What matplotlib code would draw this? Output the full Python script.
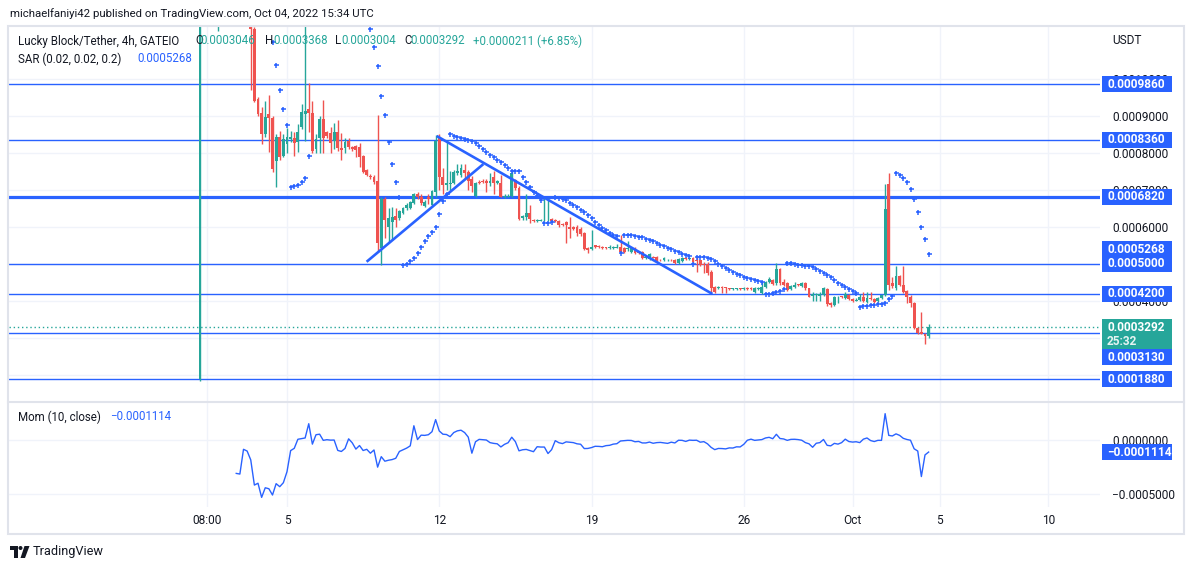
import numpy as np
import matplotlib
matplotlib.use("Agg")
import matplotlib.pyplot as plt
from matplotlib.patches import Rectangle, Polygon, Circle
from matplotlib.lines import Line2D
from matplotlib.transforms import IdentityTransform

plt.rcParams['font.family'] = ['Roboto', 'DejaVu Sans']

W, H = 1194, 570
SCALE = 1e-4  # the price lists are in units of 0.0001 USDT

# LUCKY/USDT 4h candles, the first one opens Sep 1 (x axis = days since Sep 1)
opens = [
    1.88, 15.75, 15.62, 13.07, 13.35, 13.20, 13.58, 13.05, 13.81, 13.39,
    13.46, 12.66, 12.47, 12.21, 12.33, 11.36, 9.46, 9.08, 8.51, 9.05,
    8.95, 7.78, 8.43, 7.92, 8.25, 8.38, 8.40, 8.30, 8.70, 9.05,
    9.19, 9.08, 8.11, 8.40, 8.92, 8.57, 8.54, 8.32, 8.57, 8.14,
    8.14, 8.32, 8.16, 8.20, 8.16, 7.92, 7.54, 7.38, 7.35, 7.24,
    5.43, 6.76, 6.00, 6.14, 6.30, 6.24, 6.38, 6.50, 6.51, 6.65,
    6.89, 6.81, 6.57, 6.81, 6.59, 6.95, 8.40, 7.35, 7.14, 7.17,
    7.19, 7.45, 7.41, 7.55, 7.49, 7.30, 6.84, 7.22, 7.25, 7.24,
    7.20, 7.35, 7.19, 7.19, 6.80, 6.82, 6.84, 7.27, 7.05, 6.25,
    6.27, 6.38, 6.20, 6.16, 6.17, 6.18, 6.18, 6.22, 6.20, 6.16,
    6.08, 6.14, 6.00, 6.00, 6.00, 5.95, 5.84, 5.43, 5.41, 5.50,
    5.49, 5.47, 5.45, 5.43, 5.43, 5.44, 5.47, 5.43, 5.40, 5.32,
    5.43, 5.32, 5.32, 5.16, 5.14, 5.20, 5.19, 5.12, 5.10, 5.10,
    5.12, 5.11, 5.03, 5.08, 5.16, 5.14, 5.16, 5.12, 5.11, 5.00,
    5.00, 4.78, 4.38, 4.35, 4.36, 4.37, 4.34, 4.32, 4.32, 4.34,
    4.33, 4.35, 4.35, 4.24, 4.33, 4.22, 4.38, 4.51, 4.57, 4.49,
    4.86, 4.51, 4.49, 4.32, 4.38, 4.45, 4.41, 4.49, 4.35, 4.14,
    4.17, 4.14, 4.16, 4.32, 3.95, 3.89, 4.10, 4.12, 4.08, 4.16,
    4.05, 4.01, 4.03, 4.11, 3.97, 4.08, 4.05, 4.00, 4.08, 4.16,
    7.16, 4.49, 4.35, 4.68, 4.43, 4.27, 4.11, 3.95, 3.27, 3.16,
    3.11, 3.046]
highs = [
    16.50, 16.00, 15.90, 14.00, 13.90, 14.20, 13.90, 14.10, 14.00, 13.70,
    13.50, 12.90, 12.60, 12.60, 12.40, 11.40, 9.50, 9.24, 9.40, 9.57,
    9.00, 8.51, 8.60, 8.50, 8.68, 8.60, 8.57, 8.78, 9.32, 14.50,
    9.89, 9.40, 8.50, 9.00, 9.43, 8.60, 8.70, 8.80, 8.90, 8.54,
    8.40, 8.40, 8.20, 8.22, 8.27, 7.95, 7.58, 7.42, 7.40, 9.03,
    6.81, 6.80, 6.50, 6.54, 6.50, 6.45, 6.55, 6.65, 6.70, 6.92,
    6.95, 6.90, 6.72, 6.90, 7.00, 8.49, 8.50, 7.60, 8.35, 7.50,
    7.55, 7.70, 7.70, 7.70, 7.55, 7.38, 7.22, 7.26, 7.30, 7.30,
    7.45, 7.50, 7.28, 7.40, 6.88, 6.88, 7.50, 7.30, 7.10, 6.33,
    6.90, 6.60, 6.22, 6.22, 6.22, 6.80, 6.78, 6.25, 6.22, 6.20,
    6.12, 6.16, 6.27, 6.02, 6.05, 6.00, 5.86, 5.45, 5.92, 5.52,
    5.51, 5.49, 5.47, 5.52, 5.48, 5.55, 5.78, 5.45, 5.62, 5.45,
    5.45, 5.34, 5.35, 5.21, 5.29, 5.22, 5.22, 5.14, 5.19, 5.14,
    5.14, 5.14, 5.16, 5.18, 5.18, 5.18, 5.19, 5.19, 5.12, 5.05,
    5.05, 4.84, 4.40, 4.40, 4.40, 4.39, 4.36, 4.36, 4.36, 4.36,
    4.37, 4.37, 4.37, 4.37, 4.38, 4.50, 4.53, 4.65, 4.60, 5.03,
    4.90, 4.60, 4.52, 4.43, 4.52, 4.47, 4.50, 4.50, 4.36, 4.24,
    4.21, 4.24, 4.38, 4.35, 3.97, 4.14, 4.14, 4.14, 4.24, 4.18,
    4.07, 4.08, 4.20, 4.24, 4.24, 4.24, 4.08, 4.10, 4.18, 7.16,
    7.46, 4.65, 4.95, 4.70, 4.95, 4.30, 4.16, 3.97, 3.30, 3.70,
    3.14, 3.368]
lows = [
    1.85, 14.80, 12.60, 12.80, 12.90, 11.30, 12.80, 12.90, 13.10, 13.20,
    12.40, 12.20, 12.00, 12.10, 9.70, 9.39, 9.00, 8.24, 8.43, 8.03,
    7.49, 7.08, 7.80, 7.90, 8.00, 8.30, 7.93, 8.03, 8.65, 8.32,
    8.57, 8.00, 8.00, 8.00, 8.00, 8.40, 8.00, 8.10, 8.05, 7.81,
    8.00, 8.10, 8.05, 7.90, 7.62, 7.45, 7.38, 7.30, 7.15, 5.32,
    4.97, 5.70, 5.60, 5.65, 6.00, 6.20, 6.35, 6.45, 6.48, 6.62,
    6.75, 6.60, 6.55, 6.62, 6.55, 6.81, 7.00, 6.90, 7.00, 7.00,
    7.15, 7.40, 7.35, 7.30, 7.00, 6.95, 6.81, 7.15, 7.18, 6.95,
    7.10, 6.90, 7.15, 6.80, 6.78, 6.80, 6.82, 7.00, 6.20, 6.20,
    6.20, 6.10, 6.14, 6.14, 6.15, 6.15, 6.16, 6.14, 6.14, 6.00,
    6.02, 5.57, 5.70, 5.92, 5.76, 5.75, 5.38, 5.30, 5.38, 5.44,
    5.44, 5.41, 5.41, 5.41, 5.41, 5.42, 5.30, 5.30, 5.35, 5.30,
    5.28, 5.28, 5.13, 5.14, 5.12, 5.15, 5.05, 5.08, 5.08, 5.08,
    5.08, 5.00, 5.01, 5.06, 5.12, 5.12, 5.03, 4.78, 4.95, 4.76,
    4.70, 4.22, 4.22, 4.33, 4.22, 4.22, 4.30, 4.30, 4.30, 4.31,
    4.31, 4.31, 4.31, 4.22, 4.31, 4.20, 4.36, 4.49, 4.44, 4.43,
    4.43, 4.40, 4.28, 4.30, 4.36, 4.40, 4.39, 4.30, 4.10, 4.00,
    4.00, 4.00, 4.14, 3.86, 3.85, 3.87, 3.95, 4.08, 4.06, 4.03,
    3.98, 3.99, 4.01, 3.98, 3.95, 4.04, 3.95, 3.98, 4.06, 4.14,
    4.30, 4.35, 4.30, 4.40, 4.22, 3.95, 3.84, 3.25, 3.10, 3.10,
    2.84, 3.004]
closes = [
    15.75, 15.62, 13.07, 13.35, 13.20, 13.58, 13.05, 13.81, 13.39, 13.46,
    12.66, 12.47, 12.21, 12.33, 11.36, 9.41, 9.05, 8.50, 8.97, 8.95,
    7.57, 8.43, 7.89, 8.38, 8.43, 8.43, 8.28, 8.57, 9.10, 9.14,
    9.08, 8.05, 8.38, 8.92, 8.40, 8.46, 8.27, 8.57, 8.14, 8.08,
    8.30, 8.16, 8.12, 8.08, 7.89, 7.49, 7.41, 7.35, 7.22, 5.57,
    6.76, 6.20, 6.25, 6.27, 6.20, 6.43, 6.51, 6.60, 6.68, 6.89,
    6.80, 6.65, 6.68, 6.76, 6.97, 8.32, 7.35, 7.14, 7.19, 7.20,
    7.49, 7.50, 7.59, 7.45, 7.24, 7.10, 7.19, 7.20, 7.22, 7.20,
    7.25, 7.19, 7.24, 6.81, 6.84, 6.85, 7.45, 7.05, 6.22, 6.30,
    6.38, 6.22, 6.16, 6.19, 6.19, 6.20, 6.20, 6.16, 6.16, 6.05,
    6.05, 6.05, 5.95, 5.95, 5.84, 5.81, 5.41, 5.38, 5.46, 5.47,
    5.46, 5.43, 5.43, 5.46, 5.46, 5.47, 5.32, 5.32, 5.43, 5.43,
    5.30, 5.30, 5.16, 5.19, 5.27, 5.17, 5.08, 5.10, 5.17, 5.12,
    5.10, 5.03, 5.14, 5.16, 5.14, 5.16, 5.05, 5.08, 4.97, 4.97,
    4.75, 4.35, 4.25, 4.38, 4.35, 4.34, 4.32, 4.34, 4.34, 4.33,
    4.35, 4.33, 4.33, 4.35, 4.36, 4.38, 4.51, 4.59, 4.46, 4.86,
    4.49, 4.43, 4.30, 4.41, 4.43, 4.42, 4.49, 4.35, 4.11, 4.19,
    4.19, 4.19, 4.35, 3.92, 3.89, 4.11, 4.11, 4.11, 4.19, 4.05,
    4.00, 4.03, 4.11, 4.00, 4.08, 4.06, 3.97, 4.08, 4.16, 6.49,
    4.43, 4.406, 4.68, 4.43, 4.24, 4.11, 3.95, 3.27, 3.14, 3.11,
    3.05, 3.292]

# horizontal levels drawn by the author (0.0001 units), the 0.000682 one is thick
levels = [9.86, 8.36, 6.82, 5.00, 4.20, 3.13, 1.88]
level_widths = [1, 1, 2.3, 1, 1, 1, 1]
# flag drawing: (day, price) end points
trend_lines = [((7.66, 5.06), (13.03, 7.70)),
               ((10.88, 8.46), (23.56, 4.19))]

tick_days = [1 / 3, 4, 11, 18, 25, 30, 34, 39]
tick_labels = ['08:00', '5', '12', '19', '26', 'Oct', '5', '10']
price_ticks = [2, 3, 4, 5, 6, 7, 8, 9, 10]
hidden_ticks = [3, 5]  # fully covered by the price boxes
mom_ticks = [0, -5]
mom_tick_labels = ['0.0000000', '\u22120.0005000']

UP = '#26a69a'
DOWN = '#ef5350'
BLUE = '#2962ff'
TXT = '#131722'
GRID = '#f0f3fa'
BORDER = '#e0e3eb'


def parabolic_sar(h, l, c, start=0.02, inc=0.02, mx=0.2):
    n = len(c)
    out = np.full(n, np.nan)
    result = maxmin = acc = np.nan
    below = False
    for i in range(1, n):
        first = False
        if i == 1:
            if c[1] > c[0]:
                below, maxmin, result = True, h[1], l[0]
            else:
                below, maxmin, result = False, l[1], h[0]
            first = True
            acc = start
        result = result + acc * (maxmin - result)
        if below:
            if result > l[i]:
                first, below = True, False
                result = max(h[i], maxmin)
                maxmin, acc = l[i], start
        else:
            if result < h[i]:
                first, below = True, True
                result = min(l[i], maxmin)
                maxmin, acc = h[i], start
        if not first:
            if below and h[i] > maxmin:
                maxmin, acc = h[i], min(acc + inc, mx)
            elif not below and l[i] < maxmin:
                maxmin, acc = l[i], min(acc + inc, mx)
        if below:
            result = min(result, l[i - 1])
            if i > 1:
                result = min(result, l[i - 2])
        else:
            result = max(result, h[i - 1])
            if i > 1:
                result = max(result, h[i - 2])
        out[i] = result
    return out


o = np.array(opens) * SCALE
hi = np.array(highs) * SCALE
lo = np.array(lows) * SCALE
c = np.array(closes) * SCALE
x = np.arange(len(c)) / 6.0
sar = parabolic_sar(hi, lo, c)
mom = c[10:] - c[:-10]


def fx(px):
    return px / W


def fy(py):
    return 1 - py / H


def day(px):
    return (px - 200) / 21.75


fig = plt.figure(figsize=(W / 100, H / 100), dpi=100)
fig.patch.set_facecolor('white')

ax = fig.add_axes([fx(9), fy(401), fx(1100) - fx(9), fy(26) - fy(401)])
axm = fig.add_axes([fx(9), fy(507), fx(1100) - fx(9), fy(402) - fy(507)], sharex=ax)

for a in (ax, axm):
    for s in a.spines.values():
        s.set_visible(False)
    a.set_xlim(day(9), day(1100))
    a.grid(True, color=GRID, lw=1)
    a.set_axisbelow(True)
    a.yaxis.tick_right()
    a.tick_params(axis='y', length=0, pad=8.6, labelsize=8.6, labelcolor=TXT)
    a.tick_params(axis='x', length=0, pad=5, labelsize=8.6, labelcolor=TXT)

ax.set_ylim(1.297 * SCALE, 11.432 * SCALE)
ax.set_yticks([p * SCALE for p in price_ticks])
ax.set_yticklabels(['' if p in hidden_ticks else '%.7f' % (p * SCALE) for p in price_ticks])
ax.set_xticks(tick_days)
ax.tick_params(axis='x', labelbottom=False)

axm.set_ylim(-6.2 * SCALE, 3.52 * SCALE)
axm.set_yticks([m * SCALE for m in mom_ticks])
axm.set_yticklabels(mom_tick_labels)
axm.set_xticks(tick_days)
axm.set_xticklabels(tick_labels)

# candles
col = np.where(c >= o, UP, DOWN)
ax.vlines(x, lo, hi, colors=col, lw=1, zorder=3)
body = np.maximum(np.abs(c - o), 0.02 * SCALE)
ax.bar(x, body, bottom=np.minimum(o, c), width=0.8 / 6, color=col, lw=0, zorder=3)

# levels, flag, last price
for lv, lw in zip(levels, level_widths):
    ax.axhline(lv * SCALE, color=BLUE, lw=lw, zorder=2)
for (x0, y0), (x1, y1) in trend_lines:
    ax.plot([x0, x1], [y0 * SCALE, y1 * SCALE], color=BLUE, lw=1.9, zorder=4,
            solid_capstyle='butt')
ax.axhline(c[-1], color=UP, lw=1, ls=(0, (1, 2)), zorder=2)

# parabolic SAR
ax.plot(x, sar, ls='none', marker='+', ms=3.6, mew=1.1, color=BLUE, zorder=5)

# momentum
axm.plot(x[10:], mom, color=BLUE, lw=1)

# frame
fig.add_artist(Rectangle((fx(8), fy(534)), fx(1184) - fx(8), fy(26) - fy(534),
                         transform=fig.transFigure, fill=False, ec=BORDER, lw=1.5))
fig.add_artist(Line2D([fx(8), fx(1184)], [fy(401.5), fy(401.5)], color=BORDER, lw=1.5))

ID = IdentityTransform()


def price_box(a, value, text, color, shift=0, sub=None):
    _, yd = a.transData.transform((0, value))
    yd -= shift
    hgt = 30 if sub else 16
    top = yd + 8
    fig.add_artist(Rectangle((1102, top - hgt), 70, hgt, transform=ID,
                             fc=color, ec='none', zorder=6))
    fig.text(1107, yd, text, transform=ID, color='white', fontsize=8.6,
             fontweight='bold', va='center', ha='left', zorder=7)
    if sub:
        fig.text(1107, yd - 14, sub, transform=ID, color='#e6f4f2',
                 fontsize=8.6, fontweight='bold', va='center', ha='left', zorder=7)


price_box(ax, 9.86 * SCALE, '0.0009860', BLUE)
price_box(ax, 8.36 * SCALE, '0.0008360', BLUE)
price_box(ax, 6.82 * SCALE, '0.0006820', BLUE)
price_box(ax, sar[-1], '0.0005268', BLUE, shift=-5)
price_box(ax, 5.00 * SCALE, '0.0005000', BLUE)
price_box(ax, 4.20 * SCALE, '0.0004200', BLUE)
price_box(ax, c[-1], '0.0003292', UP, sub='25:32')
price_box(ax, 3.13 * SCALE, '0.0003130', BLUE, shift=24)
price_box(ax, 1.88 * SCALE, '0.0001880', BLUE)
price_box(axm, mom[-1], '\u22120.0001114', BLUE)

# texts
fig.text(fx(10), fy(14), 'michaelfaniyi42 published on TradingView.com, Oct 04, 2022 15:34 UTC',
         fontsize=8.2, color=TXT, va='center')
fig.text(fx(1112), fy(41), 'USDT', fontsize=8.6, color=TXT, va='center')

legend_parts = [(18, 'Lucky Block/Tether, 4h, GATEIO', TXT), (195, 'O', TXT),
                (200, '0.0003046', UP), (265, 'H', TXT), (273, '0.0003368', UP),
                (335, 'L', TXT), (341, '0.0003004', UP), (404, 'C', TXT),
                (410, '0.0003292', UP), (473, '+0.0000211 (+6.85%)', UP)]
for px, t, cl in legend_parts:
    fig.text(fx(px), fy(41), t, fontsize=8.3, color=cl, va='center')
fig.text(fx(18), fy(59), 'SAR (0.02, 0.02, 0.2)', fontsize=8.3, color=TXT, va='center')
fig.text(fx(137), fy(59), '0.0005268', fontsize=8.3, color=BLUE, va='center')
fig.text(fx(18), fy(417), 'Mom (10, close)', fontsize=8.3, color=TXT, va='center')
fig.text(fx(110), fy(417), '\u22120.0001114', fontsize=8.3, color=BLUE, va='center')

# footer logo + name
fig.add_artist(Polygon([(10, H - 546), (18, H - 546), (18, H - 558), (14, H - 558),
                        (14, H - 549.5), (10, H - 549.5)], transform=ID, fc=TXT, ec='none'))
fig.add_artist(Circle((20.5, H - 548), 2, transform=ID, fc=TXT, ec='none'))
fig.add_artist(Polygon([(24.5, H - 546), (29.5, H - 546), (25, H - 558), (20.5, H - 558)],
                       transform=ID, fc=TXT, ec='none'))
fig.text(fx(33), fy(552), 'TradingView', fontsize=9.2, color=TXT, va='center')

fig.savefig('out.png', dpi=100, facecolor='white')
